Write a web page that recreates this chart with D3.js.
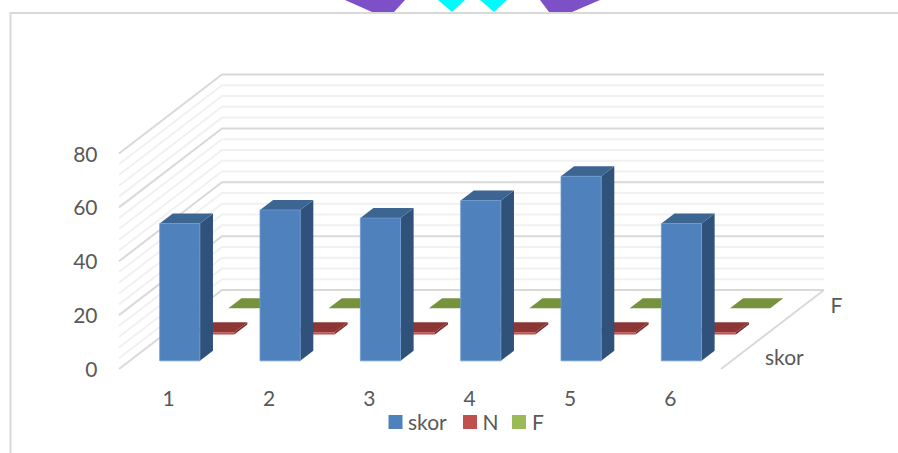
<!DOCTYPE html>
<html>
<head>
<meta charset="utf-8">
<script src="https://cdn.jsdelivr.net/npm/d3@7/dist/d3.min.js"></script>
<style>
  html, body { margin: 0; padding: 0; background: #fff; overflow: hidden; }
  svg { display: block; }
  text, .tick text { font-family: Lato, sans-serif; fill: #595959; }
</style>
</head>
<body>
<svg id="chart" width="898" height="453"></svg>
<script>
// Chart data
const categories = [1, 2, 3, 4, 5, 6];
const seriesNames = ["skor", "N", "F"];
const skor = [51, 56, 53, 59.5, 68.5, 51];
const n = [0.8, 0.8, 0.8, 0.8, 0.8, 0.8];
const f = [0, 0, 0, 0, 0, 0];
const valueTicks = [0, 20, 40, 60, 80];
const minorTicks = [4, 8, 12, 16, 24, 28, 32, 36, 44, 48, 52, 56, 64, 68, 72, 76];

const seriesValues = { skor, N: n, F: f };
const palette = {
  skor: { front: "#4f81bd", side: "#30527a", top: "#3c6592", edge: "#6d9acf" },
  N:    { front: "#c0504d", side: "#7a2f2d", top: "#8c3735", edge: "#e39593" },
  F:    { front: "#9bbb59", side: "#5f7a33", top: "#76923c", edge: "#9bbb59" }
};
const labelSize = "21px";

const svg = d3.select("#chart");

// Decorative shapes cut off by the top of the panel
const clippedShapes = [
  { fill: "#7d50c8", pts: [[345, 0], [405, 0], [394, 12], [372, 12]] },
  { fill: "#00fbff", pts: [[438, 0], [465, 0], [452, 12]] },
  { fill: "#00fbff", pts: [[480, 0], [507, 0], [494, 12]] },
  { fill: "#7d50c8", pts: [[540, 0], [600, 0], [572, 12], [549, 12]] }
];
svg.selectAll("polygon.clipped").data(clippedShapes).join("polygon")
  .attr("class", "clipped")
  .attr("fill", d => d.fill)
  .attr("points", d => d.pts.join(" "));

// Panel border: only the top and left edges fall inside the page
svg.append("path")
  .attr("d", "M10.5,453V13H898")
  .attr("fill", "none")
  .attr("stroke", "#d9d9d9")
  .attr("stroke-width", 2);

// Oblique projection of the 3-D plot box
const originX = 119, originY = 369;
const depthX = 103, depthY = -79;
const plotWidth = 602, plotHeight = 215.5;

const xBand = d3.scaleBand().domain(categories).range([0, plotWidth]);
const yScale = d3.scaleLinear().domain([0, 80]).range([0, plotHeight]);
const zBand = d3.scaleBand().domain(seriesNames).range([0, 1]);

const barWidth = 40.2;
const barDepth = 0.127;

const project = (x, value, z) => [
  originX + x + z * depthX,
  originY - yScale(value) + z * depthY
];

// Gridlines on the side wall and back wall
function gridline(value, stroke, width) {
  const line = [project(0, value, 0), project(0, value, 1), project(plotWidth, value, 1)];
  svg.append("path")
    .attr("d", d3.line()(line))
    .attr("fill", "none")
    .attr("stroke", stroke)
    .attr("stroke-width", width);
}
minorTicks.forEach(v => gridline(v, "#f1f1f1", 2));
valueTicks.forEach(v => gridline(v, "#d9d9d9", 2));

// Right edge of the floor
svg.append("path")
  .attr("d", d3.line()([project(plotWidth, 0, 0), project(plotWidth, 0, 1)]))
  .attr("stroke", "#d9d9d9")
  .attr("stroke-width", 2);

// Columns, drawn back to front so nearer series overlap farther ones
[...seriesNames].reverse().forEach(name => {
  const c = palette[name];
  categories.forEach((cat, i) => {
    const v = seriesValues[name][i];
    const x0 = xBand(cat) + (xBand.bandwidth() - barWidth) / 2;
    const x1 = x0 + barWidth;
    const z0 = zBand(name) + (zBand.bandwidth() - barDepth) / 2;
    const z1 = z0 + barDepth;
    const g = svg.append("g").attr("class", "bar");
    const face = (pts, fill) => g.append("polygon")
      .attr("points", pts.join(" "))
      .attr("fill", fill);
    face([project(x1, 0, z0), project(x1, 0, z1), project(x1, v, z1), project(x1, v, z0)], c.side);
    face([project(x0, v, z0), project(x1, v, z0), project(x1, v, z1), project(x0, v, z1)], c.top);
    face([project(x0, 0, z0), project(x1, 0, z0), project(x1, v, z0), project(x0, v, z0)], c.front)
      .attr("stroke", c.edge)
      .attr("stroke-width", v > 5 ? 0.8 : 0);
  });
});

// Value axis labels
const yAxisScale = d3.scaleLinear().domain([0, 80]).range([369.5, 154.5]);
const yAxis = svg.append("g")
  .attr("transform", "translate(97.5,0)")
  .call(d3.axisLeft(yAxisScale).tickValues(valueTicks).tickSize(0).tickPadding(0));
yAxis.select(".domain").remove();
yAxis.selectAll("text").style("font-size", labelSize);

// Category axis labels
const xAxis = svg.append("g")
  .attr("transform", `translate(${originX - 0.5},391.5)`)
  .call(d3.axisBottom(xBand).tickSize(0).tickPadding(0));
xAxis.select(".domain").remove();
xAxis.selectAll("text").style("font-size", labelSize);

// Depth axis labels
const depthLabels = [
  { text: "F", x: 830.5, y: 306 },
  { text: "skor", x: 765, y: 358 }
];
svg.selectAll("text.depth").data(depthLabels).join("text")
  .attr("class", "depth")
  .attr("x", d => d.x)
  .attr("y", d => d.y)
  .attr("dy", "0.35em")
  .style("font-size", labelSize)
  .text(d => d.text);

// Legend
const legendItems = [
  { name: "skor", box: 388.5, label: 408 },
  { name: "N", box: 463, label: 482.5 },
  { name: "F", box: 512, label: 532 }
];
const legend = svg.selectAll("g.legend").data(legendItems).join("g").attr("class", "legend");
legend.append("rect")
  .attr("x", d => d.box)
  .attr("y", 415)
  .attr("width", 14)
  .attr("height", 14)
  .attr("fill", d => palette[d.name].front);
legend.append("text")
  .attr("x", d => d.label)
  .attr("y", 423)
  .attr("dy", "0.35em")
  .style("font-size", labelSize)
  .text(d => d.name);
</script>
</body>
</html>
